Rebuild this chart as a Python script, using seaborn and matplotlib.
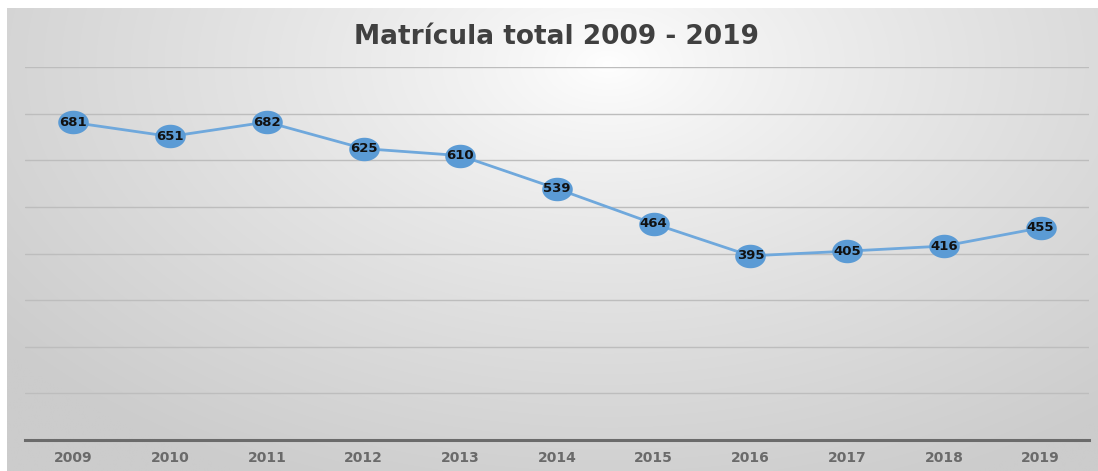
import numpy as np
import pandas as pd
import matplotlib
matplotlib.use("Agg")
import matplotlib.pyplot as plt
from matplotlib.path import Path
import seaborn as sns

years = ["2009", "2010", "2011", "2012", "2013", "2014", "2015", "2016", "2017", "2018", "2019"]
matricula = [681, 651, 682, 625, 610, 539, 464, 395, 405, 416, 455]

df = pd.DataFrame({"year": years, "matricula": matricula})
df["pos"] = range(len(df))

sns.set_style("white")
plt.rcParams["font.family"] = ["DejaVu Sans"]

fig = plt.figure(figsize=(10.98, 4.71), dpi=100)
fig.patch.set_facecolor("white")

# radial gradient background of the chart area (light at top centre)
bg = fig.add_axes([7 / 1098, 0, 1 - 7 / 1098, 1 - 8 / 471])
h, w = 300, 700
yy, xx = np.mgrid[0:h, 0:w]
d = np.sqrt(((xx - 0.55 * w) / (0.7 * w)) ** 2 + ((yy - 0.12 * h) / (1.0 * h)) ** 2)
shade = 1.0 - 0.2 * np.clip(d, 0, 1) ** 0.8
bg.imshow(np.dstack([shade] * 3), aspect="auto", extent=[0, 1, 0, 1], interpolation="bilinear")
bg.set_axis_off()

ax = fig.add_axes([25 / 1098, 31 / 471, 1064 / 1098, 373 / 471])
ax.patch.set_alpha(0)

theta = np.linspace(0, 2 * np.pi, 60)
ellipse = Path(np.column_stack([1.3 * np.cos(theta), np.sin(theta)]))

sns.lineplot(data=df, x="pos", y="matricula", ax=ax, color="#6FA8DC", lw=2,
             marker=ellipse, markersize=22, markerfacecolor="#5B9BD5",
             markeredgewidth=0, zorder=3)

for x, v in zip(df["pos"], df["matricula"]):
    ax.text(x, v, str(v), ha="center", va="center", fontsize=9.5,
            fontweight="bold", color="#111111", zorder=4)

ax.set_xlim(-0.5, len(years) - 0.5)
ax.set_ylim(0, 800)
ax.set_yticks(range(0, 801, 100))
ax.yaxis.grid(True, color="#bdbdbd", lw=1)
ax.set_axisbelow(True)
ax.tick_params(axis="y", left=False, labelleft=False)
ax.set_xticks(df["pos"])
ax.set_xticklabels(years, fontsize=10, color="#6a6a6a", fontweight="bold")
ax.tick_params(axis="x", length=0, pad=8)
ax.set_xlabel("")
ax.set_ylabel("")
for s in ["left", "right", "top"]:
    ax.spines[s].set_visible(False)
ax.spines["bottom"].set_color("#6b6b6b")
ax.spines["bottom"].set_linewidth(2.2)

fig.text(556 / 1098, 1 - 37 / 471, "Matrícula total 2009 - 2019", ha="center", va="center",
         fontsize=19, fontweight="bold", color="#404040")

fig.savefig("out.png", dpi=100)
